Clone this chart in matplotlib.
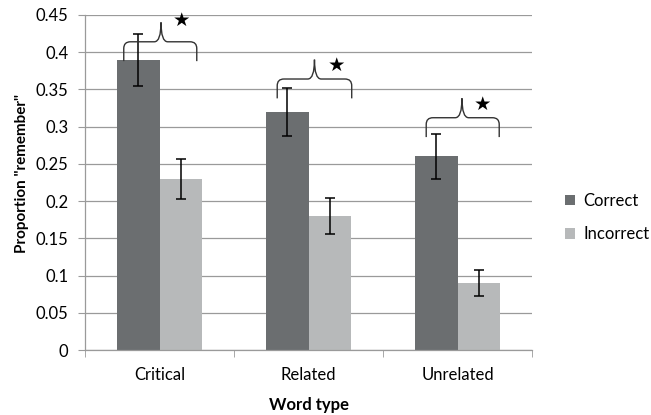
import numpy as np
import matplotlib.pyplot as plt
from matplotlib.path import Path
from matplotlib.patches import PathPatch

plt.rcParams['font.family'] = ['Lato', 'DejaVu Sans']

categories = ['Critical', 'Related', 'Unrelated']
correct = [0.39, 0.32, 0.26]
correct_err = [0.035, 0.032, 0.030]
incorrect = [0.23, 0.18, 0.09]
incorrect_err = [0.027, 0.024, 0.017]

# significance braces (offset from category centre, heights in data units)
brace_left = [-0.24, -0.21, -0.21]
brace_right = [0.25, 0.29, 0.28]
brace_tip = [0.01, 0.04, 0.03]
brace_end_y = [0.388, 0.338, 0.286]
brace_mid_y = [0.414, 0.364, 0.312]
brace_tip_y = [0.440, 0.390, 0.338]
star_dx = [0.15, 0.19, 0.17]
star_y = [0.443, 0.382, 0.330]

dark = '#6b6e70'
light = '#b7b9ba'
grid = '#9a9a9a'


def draw_brace(ax, x0, x1, xt, y0, ym, yt):
    rx, ry = 0.045, 0.009
    verts = [(x0, y0), (x0, ym - ry), (x0, ym), (x0 + rx, ym),
             (xt - rx, ym), (xt, ym), (xt, yt),
             (xt, ym), (xt + rx, ym),
             (x1 - rx, ym), (x1, ym), (x1, ym - ry), (x1, y0)]
    codes = [Path.MOVETO, Path.LINETO, Path.CURVE3, Path.CURVE3,
             Path.LINETO, Path.CURVE3, Path.CURVE3,
             Path.CURVE3, Path.CURVE3,
             Path.LINETO, Path.CURVE3, Path.CURVE3, Path.LINETO]
    ax.add_patch(PathPatch(Path(verts, codes), fill=False, edgecolor='#333333',
                           linewidth=1.0, zorder=4))


fig = plt.figure(figsize=(6.51, 4.15), dpi=100)
ax = fig.add_axes([0.1306, 0.1566, 0.6866, 0.8073])

x = np.arange(len(categories))
w = 0.285
ax.bar(x - w / 2, correct, w, color=dark, label='Correct', zorder=2)
ax.bar(x + w / 2, incorrect, w, color=light, label='Incorrect', zorder=2)
ax.errorbar(x - w / 2, correct, yerr=correct_err, fmt='none', ecolor='black',
            elinewidth=1.1, capsize=3.5, capthick=1.1, zorder=3)
ax.errorbar(x + w / 2, incorrect, yerr=incorrect_err, fmt='none', ecolor='black',
            elinewidth=1.1, capsize=3.5, capthick=1.1, zorder=3)

for i in range(len(categories)):
    draw_brace(ax, i + brace_left[i], i + brace_right[i], i + brace_tip[i],
               brace_end_y[i], brace_mid_y[i], brace_tip_y[i])
    ax.text(i + star_dx[i], star_y[i], '\u2605', family='DejaVu Sans',
            fontsize=14, ha='center', va='center', zorder=5)

ax.set_xlim(-0.5, 2.5)
ax.set_ylim(0, 0.45)
ax.set_yticks(np.arange(0, 0.451, 0.05))
ax.set_yticklabels(['0', '0.05', '0.1', '0.15', '0.2', '0.25', '0.3', '0.35', '0.4', '0.45'])
ax.set_xticks(x)
ax.set_xticklabels(categories)
ax.set_xticks([-0.5, 0.5, 1.5, 2.5], minor=True)
ax.tick_params(axis='x', which='major', length=0, pad=12, labelsize=12)
ax.tick_params(axis='x', which='minor', length=5, color=grid)
ax.tick_params(axis='y', length=5, color=grid, labelsize=12, pad=7)

ax.yaxis.grid(True, color=grid, linewidth=0.9, zorder=0)
ax.set_axisbelow(True)
for s in ['top', 'right']:
    ax.spines[s].set_visible(False)
for s in ['left', 'bottom']:
    ax.spines[s].set_color(grid)
    ax.spines[s].set_linewidth(0.9)

ax.set_xlabel('Word type', fontsize=12, fontweight='bold', labelpad=10)
ax.set_ylabel('Proportion "remember"', fontsize=11, fontweight='bold', labelpad=8)
ax.yaxis.set_label_coords(-0.125, 0.527)

ax.legend(loc='center left', bbox_to_anchor=(1.04, 0.395), frameon=False,
          fontsize=12, handlelength=0.6, handleheight=0.6, handletextpad=0.5,
          labelspacing=1.05)

fig.savefig('out.png', dpi=100)
